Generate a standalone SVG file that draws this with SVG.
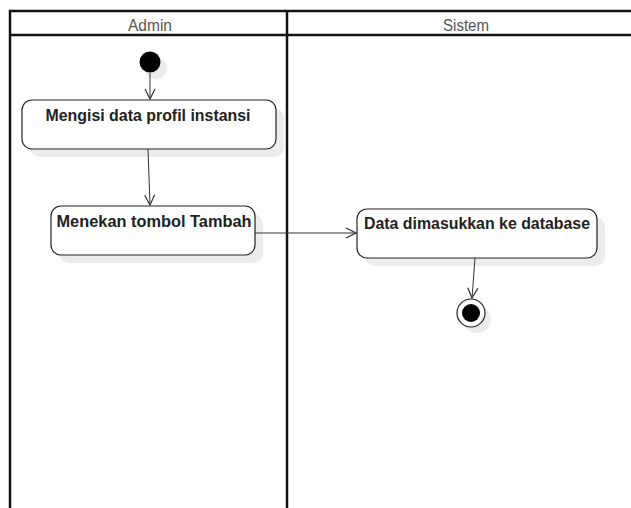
<svg xmlns="http://www.w3.org/2000/svg" width="631" height="508" viewBox="0 0 631 508">
  <style>
    .lane { fill: none; stroke: #111; stroke-width: 2.5; }
    .head { font-family: "Liberation Sans", Arial, sans-serif; font-size: 16px; fill: #555; text-anchor: middle; }
    .act { fill: #fff; stroke: #222; stroke-width: 1.2; }
    .shadow { fill: #ececec; }
    .label { font-family: "Liberation Sans", Arial, sans-serif; font-size: 16px; font-weight: bold; fill: #222; text-anchor: middle; }
    .edge { fill: none; stroke: #333; stroke-width: 1; marker-end: url(#open); }
  </style>
  <defs>
    <marker id="open" viewBox="0 0 12 12" refX="11" refY="6" markerWidth="12" markerHeight="12" markerUnits="userSpaceOnUse" orient="auto">
      <path d="M1,1 L11,6 L1,11" fill="none" stroke="#333" stroke-width="1.2"/>
    </marker>
  </defs>
  <rect width="631" height="508" fill="#fff"/>

  <!-- swimlanes -->
  <g id="lanes">
    <path class="lane" d="M10,508 V11 H632 M10,35 H632 M287,11 V508"/>
    <text class="head" x="150" y="31" textLength="44" lengthAdjust="spacingAndGlyphs">Admin</text>
    <text class="head" x="466" y="31" textLength="46" lengthAdjust="spacingAndGlyphs">Sistem</text>
  </g>

  <!-- start -->
  <g id="start">
    <circle class="shadow" cx="156" cy="68" r="11"/>
    <circle cx="150" cy="62" r="10.5" fill="#000"/>
  </g>

  <g id="act1">
    <rect class="shadow" x="30" y="108" width="254" height="49" rx="10"/>
    <rect class="act" x="22" y="100" width="254" height="49" rx="10"/>
    <text class="label" x="148" y="121" textLength="205" lengthAdjust="spacingAndGlyphs">Mengisi data profil instansi</text>
  </g>

  <g id="act2">
    <rect class="shadow" x="59" y="214" width="204" height="49" rx="10"/>
    <rect class="act" x="51" y="206" width="204" height="49" rx="10"/>
    <text class="label" x="154" y="227" textLength="195" lengthAdjust="spacingAndGlyphs">Menekan tombol Tambah</text>
  </g>

  <g id="act3">
    <rect class="shadow" x="365" y="217" width="240" height="49" rx="10"/>
    <rect class="act" x="357" y="209" width="240" height="49" rx="10"/>
    <text class="label" x="477" y="229" textLength="226" lengthAdjust="spacingAndGlyphs">Data dimasukkan ke database</text>
  </g>

  <g id="end">
    <circle class="shadow" cx="477" cy="319" r="14"/>
    <circle cx="471" cy="313" r="14" fill="#fff" stroke="#222" stroke-width="1.2"/>
    <circle cx="471" cy="313" r="9" fill="#000"/>
  </g>

  <g id="connectors">
    <path class="edge" d="M150,73 V99"/>
    <path class="edge" d="M148,149 L150,205"/>
    <path class="edge" d="M255,233 H356"/>
    <path class="edge" d="M475,258 L472,298"/>
  </g>
</svg>
